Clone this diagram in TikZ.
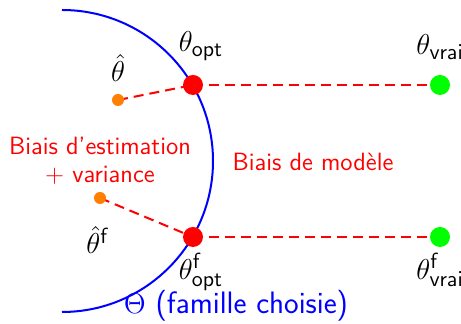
\documentclass[tikz,border=0pt]{standalone}
\usetikzlibrary{backgrounds}
\definecolor{myred}{RGB}{255,0,0}
\definecolor{mygreen}{RGB}{0,255,0}
\definecolor{myorange}{RGB}{255,128,0}
\definecolor{myblue}{RGB}{0,0,255}
\begin{document}
\begin{tikzpicture}[x=0.5pt,y=-0.5pt,
  font=\sffamily\fontsize{12.5}{14}\selectfont,
  bigdot/.style={circle,inner sep=0pt,minimum size=10pt},
  smalldot/.style={circle,fill=myorange,inner sep=0pt,minimum size=6pt},
  dashline/.style={myred,line width=1pt,dash pattern=on 5pt off 3pt},
  lbl/.style={font=\sffamily\fontsize{15.5}{17}\selectfont,inner sep=0pt},
  redtxt/.style={text=myred,align=center,inner sep=1pt}]
\useasboundingbox (0,0) rectangle (461,324);
\draw[myblue,line width=1pt] (62,10) arc[start angle=90,end angle=-90,radius=75.5pt];
\node[bigdot,fill=myred] (r1) at (193,85) {};
\node[bigdot,fill=myred] (r2) at (193,237) {};
\node[bigdot,fill=mygreen] (g1) at (440,85) {};
\node[bigdot,fill=mygreen] (g2) at (440,237) {};
\node[smalldot] (o1) at (118,100) {};
\node[smalldot] (o2) at (100,198) {};
\begin{scope}[on background layer]
\draw[dashline] (o1.center) -- (r1.center);
\draw[dashline] (r1.center) -- (g1.center);
\draw[dashline] (o2.center) -- (r2.center);
\draw[dashline] (r2.center) -- (g2.center);
\end{scope}
\node[lbl] (t1) at (201,46) {$\theta_{\mathsf{opt}}$};
\node[lbl] (t2) at (118,68) {$\hat\theta$};
\node[lbl,anchor=west] (t3) at (416,47) {$\theta_{\mathsf{vrai}}$};
\node[lbl] (t4) at (201,272) {$\theta^{\mathsf{f}}_{\mathsf{opt}}$};
\node[lbl] (t5) at (98,240) {$\hat\theta^{\mathsf{f}}$};
\node[lbl,anchor=west] (t6) at (416,270) {$\theta^{\mathsf{f}}_{\mathsf{vrai}}$};
\node[redtxt] (b1) at (100,161) {Biais d'estimation\\+ variance};
\node[redtxt] (b2) at (313,162) {Biais de modèle};
\node[text=myblue,font=\sffamily\fontsize{15.5}{17}\selectfont,inner sep=1pt] (th) at (236,306) {$\Theta$ (famille choisie)};
\end{tikzpicture}
\end{document}
